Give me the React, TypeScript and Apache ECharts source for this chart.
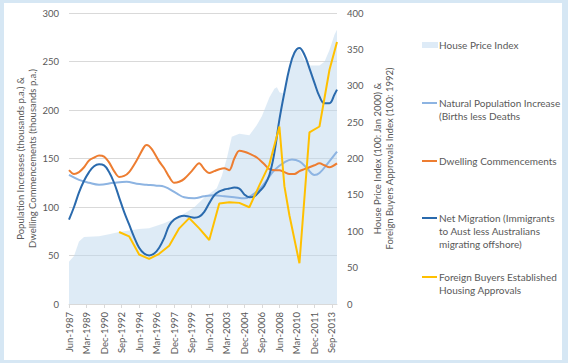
import React, { useEffect, useRef } from "react";
import * as echarts from "echarts";

// Quarterly categories, Jun-1987 .. Mar-2014
const MONTHS = ["Jun", "Sep", "Dec", "Mar"];
const FIRST_YEAR = 1987;
const QUARTER_COUNT = 108;
const categories: string[] = [];
for (let i = 0; i < QUARTER_COUNT; i++) {
  const year = FIRST_YEAR + Math.floor((5 + i * 3) / 12);
  categories.push(`${MONTHS[i % 4]}-${year}`);
}

// [quarter index, value]
const housePriceIndex: [number, number][] = [
  [0, 58], [2, 66], [4, 86], [6, 92], [12, 93], [16, 96], [20, 99], [28, 103], [32, 104],
  [38, 111], [45, 122], [50, 133], [54, 146], [59, 159], [61, 176], [63, 200], [65, 230],
  [68, 234], [72, 232], [75, 246], [77, 258], [80, 284], [82, 296], [83, 298], [84, 291],
  [86, 289], [88, 322], [90, 346], [92, 350], [94, 335], [96, 328], [100, 328], [102, 333],
  [104, 349], [106, 370], [107, 377],
];

const naturalIncrease: [number, number][] = [
  [0, 133], [4, 128], [8, 125], [12, 123], [18, 125], [23, 126], [27, 124], [31, 123],
  [35, 122], [38, 121], [43, 114], [46, 110], [50, 109], [54, 111], [58, 112], [62, 111],
  [66, 110], [70, 109], [73, 112], [77, 121], [82, 138], [86, 146], [89, 149], [92, 147],
  [95, 140], [98, 133], [100, 135], [103, 144], [107, 157],
];

const dwellingCommencements: [number, number][] = [
  [0, 138], [2, 134], [4, 136], [6, 141], [8, 148], [10, 151], [12, 153], [14, 152],
  [16, 146], [18, 137], [20, 131], [22, 132], [24, 136], [27, 148], [30, 162], [31, 164],
  [33, 160], [36, 147], [38, 140], [40, 131], [42, 125], [44, 126], [46, 129], [49, 137],
  [52, 145], [54, 139], [56, 135], [58, 137], [60, 139], [62, 140], [64, 138], [66, 150],
  [68, 158], [70, 157], [72, 155], [75, 151], [78, 144], [80, 139], [82, 138], [84, 138],
  [86, 136], [88, 134], [90, 134], [92, 137], [94, 139], [96, 141], [98, 143], [100, 145],
  [102, 143], [104, 141], [107, 145],
];

const netMigration: [number, number][] = [
  [0, 87], [2, 100], [4, 115], [6, 127], [8, 136], [10, 142], [12, 144], [14, 143],
  [16, 136], [18, 125], [20, 110], [22, 95], [24, 82], [26, 69], [28, 58], [30, 52],
  [32, 50], [34, 52], [36, 58], [38, 68], [40, 81], [42, 87], [44, 90], [46, 91], [48, 90],
  [50, 89], [52, 90], [54, 95], [56, 104], [58, 112], [60, 116], [62, 118], [64, 119],
  [66, 120], [68, 119], [70, 113], [72, 110], [74, 111], [76, 116], [78, 122], [80, 133],
  [82, 156], [84, 190], [86, 218], [88, 243], [90, 259], [92, 264], [94, 257], [96, 243],
  [98, 228], [100, 214], [102, 207], [104, 207], [106, 216], [107, 221],
];

const foreignBuyers: [number, number][] = [
  [20, 99], [24, 93], [28, 68], [32, 62], [36, 69], [40, 80], [44, 104], [48, 118],
  [52, 104], [56, 88], [60, 138], [64, 140], [68, 139], [72, 133], [76, 163], [80, 192],
  [84, 244], [86, 162], [88, 122], [92, 56], [96, 236], [100, 244], [104, 322], [107, 360],
];

const leftTicks = { min: 0, max: 300, interval: 50 };
const rightTicks = { min: 0, max: 400, interval: 50 };

const SERIES_NAMES = [
  "House Price Index",
  "Natural Population Increase\n(Births less Deaths",
  "Dwelling Commencements",
  "Net Migration (Immigrants\nto Aust less Australians\nmigrating offshore)",
  "Foreign Buyers Established\nHousing Approvals",
];

const COLORS = {
  area: "#BDD7EE",
  natural: "#8DB4E2",
  dwelling: "#ED7D31",
  migration: "#2A6AAD",
  foreign: "#FFC000",
  text: "#595959",
  grid: "#D9D9D9",
};

const FONT = "Lato, 'Noto Sans', sans-serif";

const toPairs = (d: [number, number][]) => d.map(([q, v]) => [categories[q], v]);

export default function App() {
  const ref = useRef<HTMLDivElement>(null);

  useEffect(() => {
    document.body.style.margin = "0";
    if (!ref.current) return;
    const chart = echarts.init(ref.current, undefined, { renderer: "svg" });

    const lineSeries = (name: string, data: [number, number][], color: string, yAxisIndex: number, smooth: number | boolean) => ({
      name,
      type: "line",
      yAxisIndex,
      data: toPairs(data),
      smooth,
      showSymbol: false,
      symbol: "none",
      lineStyle: { color, width: 2 },
      itemStyle: { color },
      z: 3,
    });

    const legendY = [45, 103, 161, 218, 277];
    const legendColors = [COLORS.area, COLORS.natural, COLORS.dwelling, COLORS.migration, COLORS.foreign];
    const legendGraphics: any[] = [];
    SERIES_NAMES.forEach((name, i) => {
      const y = legendY[i];
      if (i === 0) {
        legendGraphics.push({
          type: "rect",
          shape: { x: 422, y: y - 3, width: 16, height: 6 },
          style: { fill: "#DEEBF7" },
          silent: true,
        });
      } else {
        legendGraphics.push({
          type: "line",
          shape: { x1: 422, y1: y, x2: 437, y2: y },
          style: { stroke: legendColors[i], lineWidth: 2 },
          silent: true,
        });
      }
      legendGraphics.push({
        type: "text",
        x: 439,
        y: y - 6.5,
        style: {
          text: name,
          fill: COLORS.text,
          font: `10px ${FONT}`,
          lineHeight: 13,
          verticalAlign: "top",
          align: "left",
        },
        silent: true,
      });
    });

    const axisLabel = { color: COLORS.text, fontSize: 9.5, fontFamily: FONT };

    chart.setOption({
      animation: false,
      textStyle: { fontFamily: FONT },
      grid: { left: 69, right: 231, top: 13, bottom: 59, containLabel: false },
      xAxis: {
        type: "category",
        data: categories,
        boundaryGap: false,
        axisLine: { lineStyle: { color: COLORS.grid } },
        axisTick: { interval: 6, length: 4, lineStyle: { color: COLORS.grid } },
        axisLabel: { ...axisLabel, interval: 6, rotate: 90, margin: 8 },
        splitLine: { show: false },
      },
      yAxis: [
        {
          type: "value",
          position: "left",
          ...leftTicks,
          name: "Population Increases (thousands p.a.) &\nDwelling Commencements (thousands p.a.)",
          nameLocation: "middle",
          nameRotate: 90,
          nameGap: 27,
          nameTextStyle: { color: COLORS.text, fontSize: 9.5, fontFamily: FONT, lineHeight: 12 },
          axisLine: { show: false },
          axisTick: { show: false },
          axisLabel: { ...axisLabel, margin: 10 },
          splitLine: { lineStyle: { color: COLORS.grid, width: 1 } },
        },
        {
          type: "value",
          position: "right",
          ...rightTicks,
          name: "House Price Index (100: Jan 2000) &\nForeign Buyers Approvals Index (100: 1992)",
          nameLocation: "middle",
          nameRotate: 90,
          nameGap: 34,
          nameTextStyle: { color: COLORS.text, fontSize: 9.5, fontFamily: FONT, lineHeight: 12 },
          axisLine: { show: false },
          axisTick: { show: false },
          axisLabel: { ...axisLabel, margin: 10 },
          splitLine: { show: false },
        },
      ],
      series: [
        {
          name: SERIES_NAMES[0],
          type: "line",
          yAxisIndex: 1,
          data: toPairs(housePriceIndex),
          showSymbol: false,
          symbol: "none",
          lineStyle: { width: 0, opacity: 0 },
          areaStyle: { color: COLORS.area, opacity: 0.5 },
          z: 1,
        },
        lineSeries(SERIES_NAMES[1], naturalIncrease, COLORS.natural, 0, 0.4),
        lineSeries(SERIES_NAMES[2], dwellingCommencements, COLORS.dwelling, 0, 0.3),
        lineSeries(SERIES_NAMES[3], netMigration, COLORS.migration, 0, 0.4),
        lineSeries(SERIES_NAMES[4], foreignBuyers, COLORS.foreign, 1, false),
      ],
      graphic: legendGraphics,
    });

    return () => chart.dispose();
  }, []);

  return (
    <div style={{ position: "relative", width: 568, height: 363, background: "#D6E7F4", overflow: "hidden" }}>
      <div style={{ position: "absolute", left: 4, top: 3, width: 558, height: 357, background: "#FFFFFF" }} />
      <div ref={ref} style={{ position: "absolute", left: 0, top: 0, width: 568, height: 363 }} />
    </div>
  );
}
